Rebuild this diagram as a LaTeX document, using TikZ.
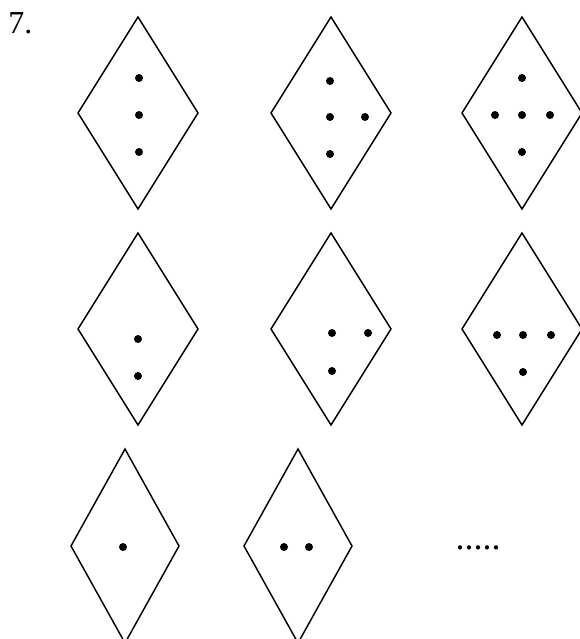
\documentclass[tikz,border=0pt]{standalone}
\usepackage{fontspec}
\setmainfont{Liberation Serif}
\usepackage{tikz}
\usetikzlibrary{positioning}

\begin{document}
\begin{tikzpicture}[x=0.75pt,y=-0.75pt,
  rhomb/.style={draw, line width=1.1pt, line join=miter},
  spot/.style={fill=black}
]
\useasboundingbox (0,0) rectangle (580,639);

% Number
\node[anchor=base west, inner sep=0pt, font=\fontsize{24}{28}\selectfont] (num) at (8,33) {7.};

% Diamonds (centre x / centre y / half width / half height)
\foreach \cx/\cy/\hw/\hh in {138/113/60/96, 331/113/60/96, 522/113/60/96,
                             138/329/60/96, 331/329/60/96, 522/329/60/96,
                             125/546/54/97, 298/546/54/97}
  \draw[rhomb] (\cx,\cy-\hh) -- (\cx+\hw,\cy) -- (\cx,\cy+\hh) -- (\cx-\hw,\cy) -- cycle;

% Dots, top row
\foreach \px/\py in {139/78, 139/115, 139/152,
                     330/81, 330/117, 365/117, 330/154,
                     522/78, 495/115, 522/115, 550/115, 522/152}
  \fill[spot] (\px,\py) circle (3pt);

% Dots, middle row
\foreach \px/\py in {138/339, 138/376,
                     332/333, 368/333, 332/371,
                     497/335, 523/335, 551/335, 523/372}
  \fill[spot] (\px,\py) circle (3pt);

% Dots, bottom row
\foreach \px/\py in {123/547, 284/547, 309/547}
  \fill[spot] (\px,\py) circle (3pt);

% And so on
\node[anchor=base, inner sep=0pt, font=\fontsize{27}{30}\selectfont] (more) at (478,549) {.....};
\end{tikzpicture}
\end{document}
